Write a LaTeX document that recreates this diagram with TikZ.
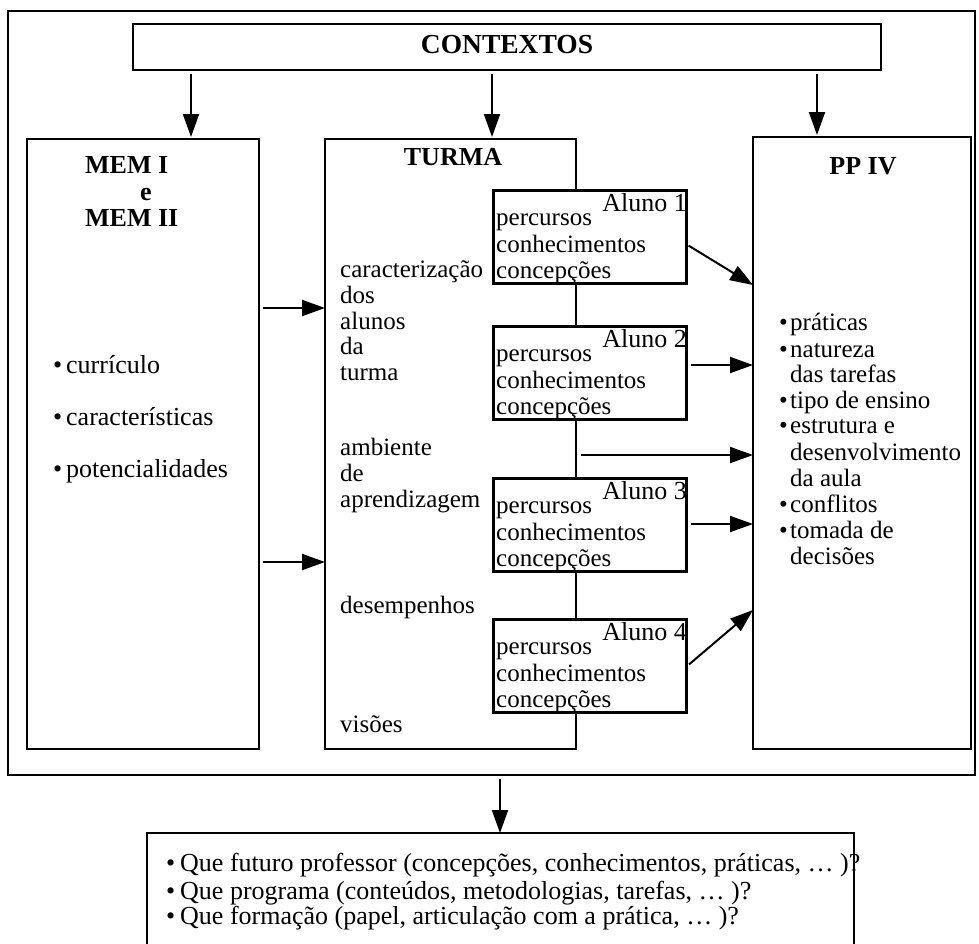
\documentclass[tikz,border=0pt]{standalone}
\usepackage{fontspec}
\setmainfont{Liberation Serif}
\usetikzlibrary{arrows.meta}
\newcommand\bul[1]{\makebox[#1][l]{\textbullet}}
\begin{document}
\begin{tikzpicture}[x=1pt,y=-1pt,
  frame/.style={draw, line width=2pt, inner sep=0pt, outer sep=0pt, anchor=north west, fill=white},
  abox/.style={frame, line width=3pt},
  arr/.style={line width=2pt, -{Triangle[length=23pt,width=16pt]}},
  txt/.style={inner sep=0pt, anchor=base west, font=\fontsize{25}{26}\selectfont},
  bigtxt/.style={txt, font=\fontsize{26}{27}\selectfont},
  lbl/.style={bigtxt, anchor=base east},
  head/.style={inner sep=0pt, anchor=base, font=\fontsize{26}{27}\selectfont\bfseries},
  headl/.style={head, anchor=base west}]
\clip (0,0) rectangle (979,943);
\fill[white] (0,0) rectangle (979,943);

% outer frame and the main blocks
\node[frame, minimum width=967pt, minimum height=764pt] (outer) at (8,11) {};
\node[frame, minimum width=748pt, minimum height=46pt] (ctx) at (133,24) {};
\node[frame, minimum width=232pt, minimum height=610pt] (mem) at (27,139) {};
\node[frame, minimum width=251pt, minimum height=610pt] (turma) at (325,139) {};
\node[frame, minimum width=218pt, minimum height=612pt] (pp) at (753,137) {};
\node[frame, minimum width=707pt, minimum height=127pt] (q) at (147,833) {};

% student boxes
\foreach \i/\y in {1/190, 2/326, 3/478, 4/619} {
  \node[abox, minimum width=193pt, minimum height=93pt] (a\i) at (493,\y) {};
  \node[lbl] (al\i) at (687,\y+21) {Aluno \i};
  \node[txt] (ap\i) at (496,\y+35) {percursos};
  \node[txt] (ac\i) at (496,\y+62) {conhecimentos};
  \node[txt] (ak\i) at (496,\y+88) {concepções};
}

% headings
\node[head, font=\fontsize{27.5}{28}\selectfont\bfseries] (tctx) at (507,53) {CONTEXTOS};
\node[headl] (tmem1) at (85,173) {MEM I};
\node[head] (tmem2) at (146,200) {e};
\node[headl] (tmem3) at (85,226) {MEM II};
\node[head] (tturma) at (453,165) {TURMA};
\node[head] (tpp) at (863,174) {PP IV};

% MEM items
\node[bigtxt] (m1) at (53,373) {\bul{13pt}currículo};
\node[bigtxt] (m2) at (53,425) {\bul{13pt}características};
\node[bigtxt] (m3) at (53,477) {\bul{13pt}potencialidades};

% TURMA items
\node[txt] (c1) at (340,277) {caracterização};
\node[txt] (c2) at (340,303) {dos};
\node[txt] (c3) at (340,329) {alunos};
\node[txt] (c4) at (340,354) {da};
\node[txt] (c5) at (340,380) {turma};
\node[txt] (e1) at (340,455) {ambiente};
\node[txt] (e2) at (340,481) {de};
\node[txt] (e3) at (340,507) {aprendizagem};
\node[txt] (d1) at (340,613) {desempenhos};
\node[txt] (v1) at (340,732) {visões};

% PP IV items
\node[txt] (p1) at (779,330) {\bul{11pt}práticas};
\node[txt] (p2) at (779,357) {\bul{11pt}natureza};
\node[txt] (p3) at (790,382) {das tarefas};
\node[txt] (p4) at (779,408) {\bul{11pt}tipo de ensino};
\node[txt] (p5) at (779,433) {\bul{11pt}estrutura e};
\node[txt] (p6) at (790,460) {desenvolvimento};
\node[txt] (p7) at (790,486) {da aula};
\node[txt] (p8) at (779,512) {\bul{11pt}conflitos};
\node[txt] (p9) at (779,538) {\bul{11pt}tomada de};
\node[txt] (p10) at (790,564) {decisões};

% questions
\node[bigtxt] (q1) at (166,871) {\bul{14pt}Que futuro professor (concepções, conhecimentos, práticas, … )?};
\node[bigtxt] (q2) at (166,899) {\bul{14pt}Que programa (conteúdos, metodologias, tarefas, … )?};
\node[bigtxt] (q3) at (166,924) {\bul{14pt}Que formação (papel, articulação com a prática, … )?};

% connectors
\draw[arr, shorten <=4pt, shorten >=2pt] (ctx.south -| 191,0) -- (mem.north -| 191,0);
\draw[arr, shorten <=4pt, shorten >=2pt] (ctx.south -| 492,0) -- (turma.north -| 492,0);
\draw[arr, shorten <=4pt, shorten >=2pt] (ctx.south -| 817,0) -- (pp.north -| 817,0);
\draw[arr, shorten <=4pt] (mem.east |- 0,308) -- (turma.west |- 0,308);
\draw[arr, shorten <=4pt] (mem.east |- 0,562) -- (turma.west |- 0,562);
\draw[arr, shorten <=3pt] (a1.east |- 0,244) -- (pp.west |- 0,285);
\draw[arr, shorten <=5pt] (a2.east |- 0,365) -- (pp.west |- 0,365);
\draw[arr, shorten <=5pt] (turma.east |- 0,455) -- (pp.west |- 0,455);
\draw[arr, shorten <=5pt] (a3.east |- 0,524) -- (pp.west |- 0,524);
\draw[arr, shorten <=4pt] (a4.east |- 0,667) -- (pp.west |- 0,610);
\draw[arr, shorten <=4pt] (outer.south -| 500,0) -- (q.north -| 500,0);
\end{tikzpicture}
\end{document}
